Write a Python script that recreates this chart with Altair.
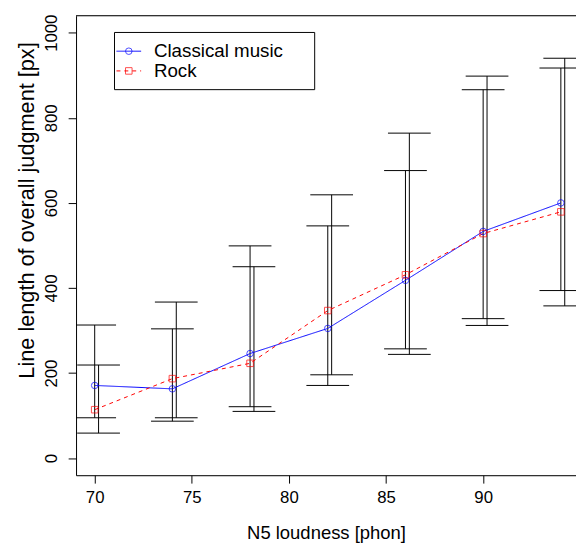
import altair as alt
import pandas as pd

# ---- data ----
x_vals = [70, 74, 78, 82, 86, 90, 94]
series_names = ["Classical music", "Rock"]
classical_mean = [171, 163, 246, 305, 418, 533, 600]
rock_mean = [114, 187, 223, 347, 431, 528, 579]
classical_lo = [95, 87, 121, 171, 257, 328, 394]
classical_hi = [313, 304, 499, 546, 676, 866, 917]
rock_lo = [59, 95, 110, 196, 244, 312, 358]
rock_hi = [219, 367, 450, 619, 764, 898, 940]
x_ticks = [70, 75, 80, 85, 90]
y_ticks = [0, 200, 400, 600, 800, 1000]

rows = []
for i, xv in enumerate(x_vals):
    rows.append(dict(x=xv, series=series_names[0], mean=classical_mean[i],
                     lo=classical_lo[i], hi=classical_hi[i], off=0.0))
    rows.append(dict(x=xv, series=series_names[1], mean=rock_mean[i],
                     lo=rock_lo[i], hi=rock_hi[i], off=0.2))
df = pd.DataFrame(rows)

FONT = "Liberation Sans"
W, H = 507, 466

xscale = alt.Scale(domain=[69.04, 94.78], nice=False, zero=False)
yscale = alt.Scale(domain=[-40, 1040], nice=False, zero=False)

xaxis = alt.Axis(values=x_ticks, format="d", title="N5 loudness [phon]", grid=False, tickSize=8,
                 labelPadding=7, labelFontSize=17, titleFontSize=18.7,
                 titleFontWeight="normal", titleY=64, titleBaseline="alphabetic",
                 domainColor="black", tickColor="black", labelColor="black",
                 titleColor="black", labelFlush=False)
yaxis = alt.Axis(values=y_ticks, format="d", title="Line length of overall judgment [px]",
                 grid=False, tickSize=8, labelAngle=270, labelAlign="center",
                 labelBaseline="middle", labelPadding=17, labelFontSize=17, titleFontSize=22,
                 titleFontWeight="normal", titleAngle=270, titleX=-50, titleY=197,
                 titleAlign="center", titleBaseline="middle",
                 domainColor="black", tickColor="black", labelColor="black",
                 titleColor="black", labelFlush=False)


def X(f):
    return alt.X(f, type="quantitative", scale=xscale, axis=xaxis)


def Y(f):
    return alt.Y(f, type="quantitative", scale=yscale, axis=yaxis)


base = alt.Chart(df).transform_calculate(
    xb="datum.x + datum.off",
    xl="datum.x + datum.off - 1.1",
    xr="datum.x + datum.off + 1.1",
)

bars = base.mark_rule(color="black", strokeWidth=1, clip=True).encode(
    x=X("xb"), y=Y("lo"), y2="hi")
caps_lo = base.mark_rule(color="black", strokeWidth=1, clip=True).encode(
    x=X("xl"), x2="xr", y=Y("lo"))
caps_hi = base.mark_rule(color="black", strokeWidth=1, clip=True).encode(
    x=X("xl"), x2="xr", y=Y("hi"))

color = alt.Color("series:N", scale=alt.Scale(domain=series_names, range=["#0000FF", "#FF0000"]),
                  legend=None)
dash = alt.StrokeDash("series:N", scale=alt.Scale(domain=series_names, range=[[1, 0], [4, 4]]),
                      legend=None)
shape = alt.Shape("series:N", scale=alt.Scale(domain=series_names, range=["circle", "square"]),
                  legend=None)

lines = base.mark_line(strokeWidth=1, clip=True).encode(
    x=X("x"), y=Y("mean"), color=color, strokeDash=dash)
points = base.mark_point(filled=False, size=44, strokeWidth=1, clip=True).encode(
    x=X("x"), y=Y("mean"), color=color, shape=shape)

one = pd.DataFrame({"k": [0]})
top_border = alt.Chart(one).mark_rule(color="black", strokeWidth=1).encode(
    x=alt.value(0), x2=alt.value(W), y=alt.value(0))

# ---- legend (manual, R style) ----
leg_box = alt.Chart(one).mark_rect(fill="white", stroke="black", strokeWidth=1).encode(
    x=alt.value(39), x2=alt.value(242), y=alt.value(17), y2=alt.value(75))
leg_layers = [leg_box]
leg_colors = ["#0000FF", "#FF0000"]
leg_dash = [[1, 0], [4, 4]]
leg_shape = ["circle", "square"]
for i, name in enumerate(series_names):
    d = pd.DataFrame({"series": [name]})
    yy = 36 + 20 * i
    leg_layers.append(alt.Chart(d).mark_rule(color=leg_colors[i], strokeWidth=1,
                                             strokeDash=leg_dash[i]).encode(
        x=alt.value(41), x2=alt.value(66), y=alt.value(yy)))
    leg_layers.append(alt.Chart(d).mark_point(color=leg_colors[i], filled=False, size=44,
                                              strokeWidth=1, shape=leg_shape[i]).encode(
        x=alt.value(53.5), y=alt.value(yy)))
    leg_layers.append(alt.Chart(d).mark_text(align="left", baseline="middle", fontSize=19,
                                             font=FONT, color="black").encode(
        x=alt.value(79), y=alt.value(yy), text="series:N"))

chart = alt.layer(bars, caps_lo, caps_hi, lines, points, top_border, *leg_layers).properties(
    width=W, height=H,
    autosize=alt.AutoSizeParams(type="none"),
    padding={"left": 69, "top": 4, "right": 0, "bottom": 70},
).configure_view(stroke=None).configure_axis(
    labelFont=FONT, titleFont=FONT
).configure(background="white")

chart.save("out.html", embed_options={"renderer": "svg", "actions": False})
